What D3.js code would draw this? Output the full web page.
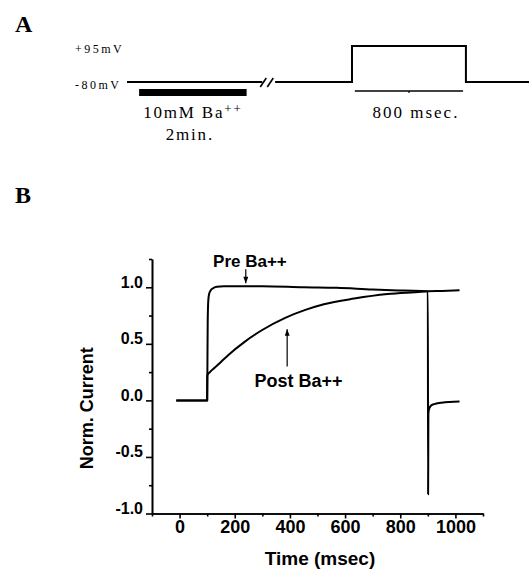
<!DOCTYPE html>
<html>
<head>
<meta charset="utf-8">
<script src="https://cdn.jsdelivr.net/npm/d3@7"></script>
<style>
  body { margin: 0; background: #fff; }
  svg { display: block; }
  .serif { font-family: "Liberation Serif", "Times New Roman", serif; }
  .sans { font-family: "Liberation Sans", Arial, sans-serif; font-weight: bold; }
</style>
</head>
<body>
<svg id="chart" width="529" height="570"></svg>
<script>
// ---- panel A: voltage protocol (schematic time in ms, pulse drawn to scale)
const protoBefore = [[0, -80], [950, -80]];
const protoAfter = [[1040, -80], [1580, -80], [1580, 95], [2380, 95], [2380, -80], [2830, -80]];
const baBar = [85, 840];
const pulseMark = [1600, 2360];
const voltLevels = [95, -80];
const voltNames = ["+95mV", "-80mV"];

// ---- panel B: normalized current traces
const preT = [-12, 100, 101, 102, 104, 107, 112, 120, 135, 160, 300, 450, 570, 700, 800, 880, 900,
              901, 902, 904, 910, 920, 950, 1015];
const preV = [0, 0, 0.35, 0.7, 0.88, 0.94, 0.97, 0.99, 1.005, 1.01, 1.01, 1.0, 0.995, 0.98, 0.972, 0.966, 0.965,
              -0.83, -0.12, -0.08, -0.05, -0.035, -0.02, -0.01];
const postT = [-12, 100, 100.5, 110, 128, 150, 176, 237, 298, 383, 456, 523, 633, 754, 876, 900, 950, 1015];
const postV = [0, 0, 0.22, 0.25, 0.29, 0.34, 0.40, 0.52, 0.62, 0.73, 0.80, 0.85, 0.90, 0.94, 0.96, 0.965, 0.968, 0.973];

const xTicks = [0, 200, 400, 600, 800, 1000];
const xMinor = [-100, 100, 300, 500, 700, 900, 1100];
const yTicks = [-1.0, -0.5, 0.0, 0.5, 1.0];
const yMinor = [-0.75, -0.25, 0.25, 0.75, 1.25];

const svg = d3.select("#chart");

// marker for the little arrows (points along the line direction)
svg.append("defs").append("marker")
    .attr("id", "head")
    .attr("viewBox", "0 0 8 6")
    .attr("refX", 8).attr("refY", 3)
    .attr("markerWidth", 7).attr("markerHeight", 5)
    .attr("markerUnits", "userSpaceOnUse")
    .attr("orient", "auto")
  .append("path")
    .attr("d", "M0,0 L8,3 L0,6 Z")
    .attr("fill", "#000");

// panel letters
svg.append("text").attr("class", "serif")
    .attr("x", 15).attr("y", 32)
    .attr("font-size", 24).attr("font-weight", "bold")
    .text("A");
svg.append("text").attr("class", "serif")
    .attr("x", 15).attr("y", 203)
    .attr("font-size", 24).attr("font-weight", "bold")
    .text("B");

// ================= panel A
function protocol(g){
    const xA = d3.scaleLinear().domain([0, 2830]).range([127, 530]);
    const vA = d3.scaleLinear().domain([-80, 95]).range([82, 46]);

    const line = d3.line()
        .x(d => xA(d[0]))
        .y(d => vA(d[1]));

    [protoBefore, protoAfter].forEach(seg => {
        g.append("path")
            .datum(seg)
            .attr("d", line)
            .attr("fill", "none")
            .attr("stroke", "#000")
            .attr("stroke-width", 2);
    });

    // break marks
    const bx = xA(protoBefore[1][0]);
    const by = vA(-80);
    [0, 7].forEach(off => {
        g.append("line")
            .attr("x1", bx - 2 + off).attr("y1", by + 5)
            .attr("x2", bx + 4 + off).attr("y2", by - 4)
            .attr("stroke", "#000")
            .attr("stroke-width", 1.6);
    });

    // Ba++ application bar
    g.append("rect")
        .attr("x", xA(baBar[0]))
        .attr("y", by + 7)
        .attr("width", xA(baBar[1]) - xA(baBar[0]))
        .attr("height", 7)
        .attr("fill", "#000");

    // 800 msec marker
    g.append("line")
        .attr("x1", xA(pulseMark[0])).attr("x2", xA(pulseMark[1]))
        .attr("y1", by + 9).attr("y2", by + 9)
        .attr("stroke", "#000").attr("stroke-width", 1.5);
    const mid = (xA(pulseMark[0]) + xA(pulseMark[1])) / 2;
    g.append("line")
        .attr("x1", mid).attr("x2", mid)
        .attr("y1", by + 9).attr("y2", by + 11)
        .attr("stroke", "#000").attr("stroke-width", 1.2);

    // voltage labels
    g.selectAll(".volt")
        .data(voltLevels)
        .enter()
        .append("text")
            .attr("class", "serif volt")
            .attr("x", 75)
            .attr("y", d => vA(d) + 7)
            .attr("font-size", 12)
            .attr("letter-spacing", 2.5)
            .text((d, i) => voltNames[i]);

    const baMid = (xA(baBar[0]) + xA(baBar[1])) / 2;
    const t1 = g.append("text").attr("class", "serif")
        .attr("x", baMid).attr("y", by + 36)
        .attr("text-anchor", "middle")
        .attr("font-size", 17)
        .attr("letter-spacing", 1.8);
    t1.append("tspan").text("10mM Ba");
    t1.append("tspan").attr("font-size", 13).attr("dy", -5).text("++");

    g.append("text").attr("class", "serif")
        .attr("x", baMid - 3).attr("y", by + 58)
        .attr("text-anchor", "middle")
        .attr("font-size", 17)
        .attr("letter-spacing", 1.8)
        .text("2min.");

    g.append("text").attr("class", "serif")
        .attr("x", mid + 7).attr("y", by + 36)
        .attr("text-anchor", "middle")
        .attr("font-size", 17)
        .attr("letter-spacing", 2)
        .text("800 msec.");
}

// ================= panel B
function traces(g){
    const x = d3.scaleLinear().domain([-100, 1100]).range([152, 483]);
    const y = d3.scaleLinear().domain([-1.0, 1.25]).range([513.5, 259]);

    // axes
    const xAxis = g.append("g")
        .attr("class", "sans")
        .attr("transform", `translate(0,${y(-1.0)})`)
        .call(d3.axisBottom(x).tickValues(xTicks).tickSize(5).tickSizeOuter(0).tickPadding(2)
            .tickFormat(d3.format("d")));
    g.append("g")
        .attr("transform", `translate(0,${y(-1.0)})`)
        .call(d3.axisBottom(x).tickValues(xMinor).tickSize(3).tickSizeOuter(0).tickFormat(""));

    const yAxis = g.append("g")
        .attr("class", "sans")
        .attr("transform", `translate(${x(-100)},0)`)
        .call(d3.axisLeft(y).tickValues(yTicks).tickSize(6).tickSizeOuter(0).tickPadding(3)
            .tickFormat(d => d.toFixed(1)));
    g.append("g")
        .attr("transform", `translate(${x(-100)},0)`)
        .call(d3.axisLeft(y).tickValues(yMinor).tickSize(3).tickSizeOuter(0).tickFormat(""));

    g.selectAll(".domain, .tick line")
        .attr("stroke", "#000")
        .attr("stroke-width", 1.6);
    xAxis.selectAll("text").attr("font-size", 18).attr("fill", "#000");
    yAxis.selectAll("text").attr("font-size", 16).attr("fill", "#000").attr("dy", "0em");
    g.selectAll("text").attr("font-family", null);

    const line = d3.line()
        .x(d => x(d[0]))
        .y(d => y(d[1]))
        .curve(d3.curveMonotoneX);

    const post = postT.map((t, i) => [t, postV[i]]);
    const pre = preT.map((t, i) => [t, preV[i]]);

    [post, pre].forEach(trace => {
        g.append("path")
            .datum(trace)
            .attr("d", line)
            .attr("fill", "none")
            .attr("stroke", "#000")
            .attr("stroke-width", 2)
            .attr("stroke-linejoin", "round");
    });

    // annotations
    g.append("text").attr("class", "sans")
        .attr("x", x(255)).attr("y", y(1.18))
        .attr("text-anchor", "middle")
        .attr("font-size", 17)
        .text("Pre Ba++");
    g.append("line")
        .attr("x1", x(240)).attr("x2", x(240))
        .attr("y1", y(1.16)).attr("y2", y(1.035))
        .attr("stroke", "#000").attr("stroke-width", 1.2)
        .attr("marker-end", "url(#head)");

    g.append("text").attr("class", "sans")
        .attr("x", x(431)).attr("y", y(0.12))
        .attr("text-anchor", "middle")
        .attr("font-size", 18)
        .text("Post Ba++");
    g.append("line")
        .attr("x1", x(390)).attr("x2", x(390))
        .attr("y1", y(0.30)).attr("y2", y(0.63))
        .attr("stroke", "#000").attr("stroke-width", 1.2)
        .attr("marker-end", "url(#head)");

    // axis titles
    g.append("text").attr("class", "sans")
        .attr("x", 320).attr("y", 565)
        .attr("text-anchor", "middle")
        .attr("font-size", 19)
        .text("Time (msec)");
    g.append("text").attr("class", "sans")
        .attr("transform", `translate(93,${y(-0.07)}) rotate(-90)`)
        .attr("text-anchor", "middle")
        .attr("font-size", 18)
        .text("Norm. Current");
}

svg.append("g").call(protocol);
svg.append("g").call(traces);
</script>
</body>
</html>
